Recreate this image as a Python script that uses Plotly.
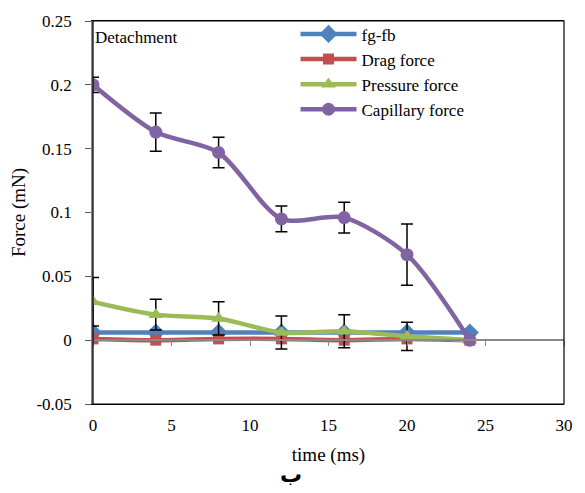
import plotly.graph_objects as go

time = [0, 4, 8, 12, 16, 20, 24]
fg_fb = [0.006, 0.006, 0.006, 0.006, 0.006, 0.006, 0.006]
drag = [0.001, 0.0, 0.001, 0.001, 0.0, 0.001, 0.0]
pressure = [0.030, 0.020, 0.017, 0.006, 0.007, 0.003, 0.0]
pressure_err = [0.019, 0.012, 0.013, 0.013, 0.013, 0.011, 0.0]
capillary = [0.200, 0.163, 0.147, 0.095, 0.096, 0.067, 0.0]
capillary_err = [0.006, 0.015, 0.012, 0.010, 0.012, 0.024, 0.0]

x_ticks = [0, 5, 10, 15, 20, 25, 30]
y_ticks = [-0.05, 0, 0.05, 0.1, 0.15, 0.2, 0.25]
y_labels = ["-0.05", "0", "0.05", "0.1", "0.15", "0.2", "0.25"]

font_main = "Liberation Serif"
fig = go.Figure()

def add(name, y, color, symbol, size, err=None):
    kw = {}
    if err is not None:
        kw["error_y"] = dict(type="data", array=err, visible=True, color="black", thickness=1.5, width=6)
    fig.add_trace(go.Scatter(
        x=time, y=y, name=name, mode="lines+markers",
        line=dict(color=color, width=4.5, shape="spline", smoothing=0.8),
        marker=dict(symbol=symbol, size=size, color=color),
        **kw))

add("fg-fb", fg_fb, "#4F81BD", "diamond", 14)
add("Drag force", drag, "#C0504D", "square", 11)
add("Pressure force", pressure, "#9BBB59", "triangle-up", 13, pressure_err)
add("Capillary force", capillary, "#8064A2", "circle", 13, capillary_err)

fig.update_layout(
    width=585, height=493,
    margin=dict(l=93, r=19, t=17, b=89),
    paper_bgcolor="white", plot_bgcolor="white",
    font=dict(family=font_main, size=17, color="black"),
    showlegend=True,
    legend=dict(x=0.43, y=1.012, xanchor="left", yanchor="top",
                bgcolor="rgba(0,0,0,0)", font=dict(size=17, family=font_main, color="black"),
                itemwidth=56, tracegroupgap=0),
    xaxis=dict(range=[0, 30], tickvals=x_ticks, showgrid=False, zeroline=False,
               showline=True, linecolor="black", mirror=True, ticks="",
               ticklabelstandoff=6,
               title=dict(text="time (ms)", font=dict(size=19, color="black"), standoff=13),
               tickfont=dict(size=17, color="black")),
    xaxis2=dict(range=[0, 30], tickvals=x_ticks, overlaying="x", anchor="free",
                position=1/6, showline=True, linecolor="#888888", linewidth=1.5,
                ticks="outside", ticklen=5, tickcolor="#888888", showticklabels=False,
                showgrid=False, zeroline=False),
    yaxis=dict(range=[-0.05, 0.25], tickvals=y_ticks, ticktext=y_labels, showgrid=False,
               zeroline=False, showline=True, linecolor="#888888", linewidth=1.5,
               mirror=False, ticks="outside", ticklen=6, tickcolor="#555555",
               ticklabelstandoff=10,
               title=dict(text="Force (mN)", font=dict(size=19, color="black"), standoff=6),
               tickfont=dict(size=17, color="black")),
)

# invisible trace to activate xaxis2 (axis line at y = 0)
fig.add_trace(go.Scatter(x=[0], y=[0], xaxis="x2", mode="markers",
                         marker=dict(opacity=0), showlegend=False, hoverinfo="skip"))

fig.add_shape(type="rect", xref="paper", yref="paper", x0=0, y0=0, x1=1, y1=1,
              line=dict(color="black", width=1.2), layer="above")

fig.add_annotation(text="Detachment", xref="paper", yref="paper", x=0.0, y=0.988,
                   xanchor="left", yanchor="top", showarrow=False,
                   font=dict(size=17, family=font_main, color="black"))
fig.add_annotation(text="<b>ب</b>", xref="paper", yref="paper", x=0.42, y=-0.222,
                   xanchor="center", yanchor="bottom", showarrow=False,
                   font=dict(size=22, family="DejaVu Sans", color="black"))

fig.write_html("out.html")
